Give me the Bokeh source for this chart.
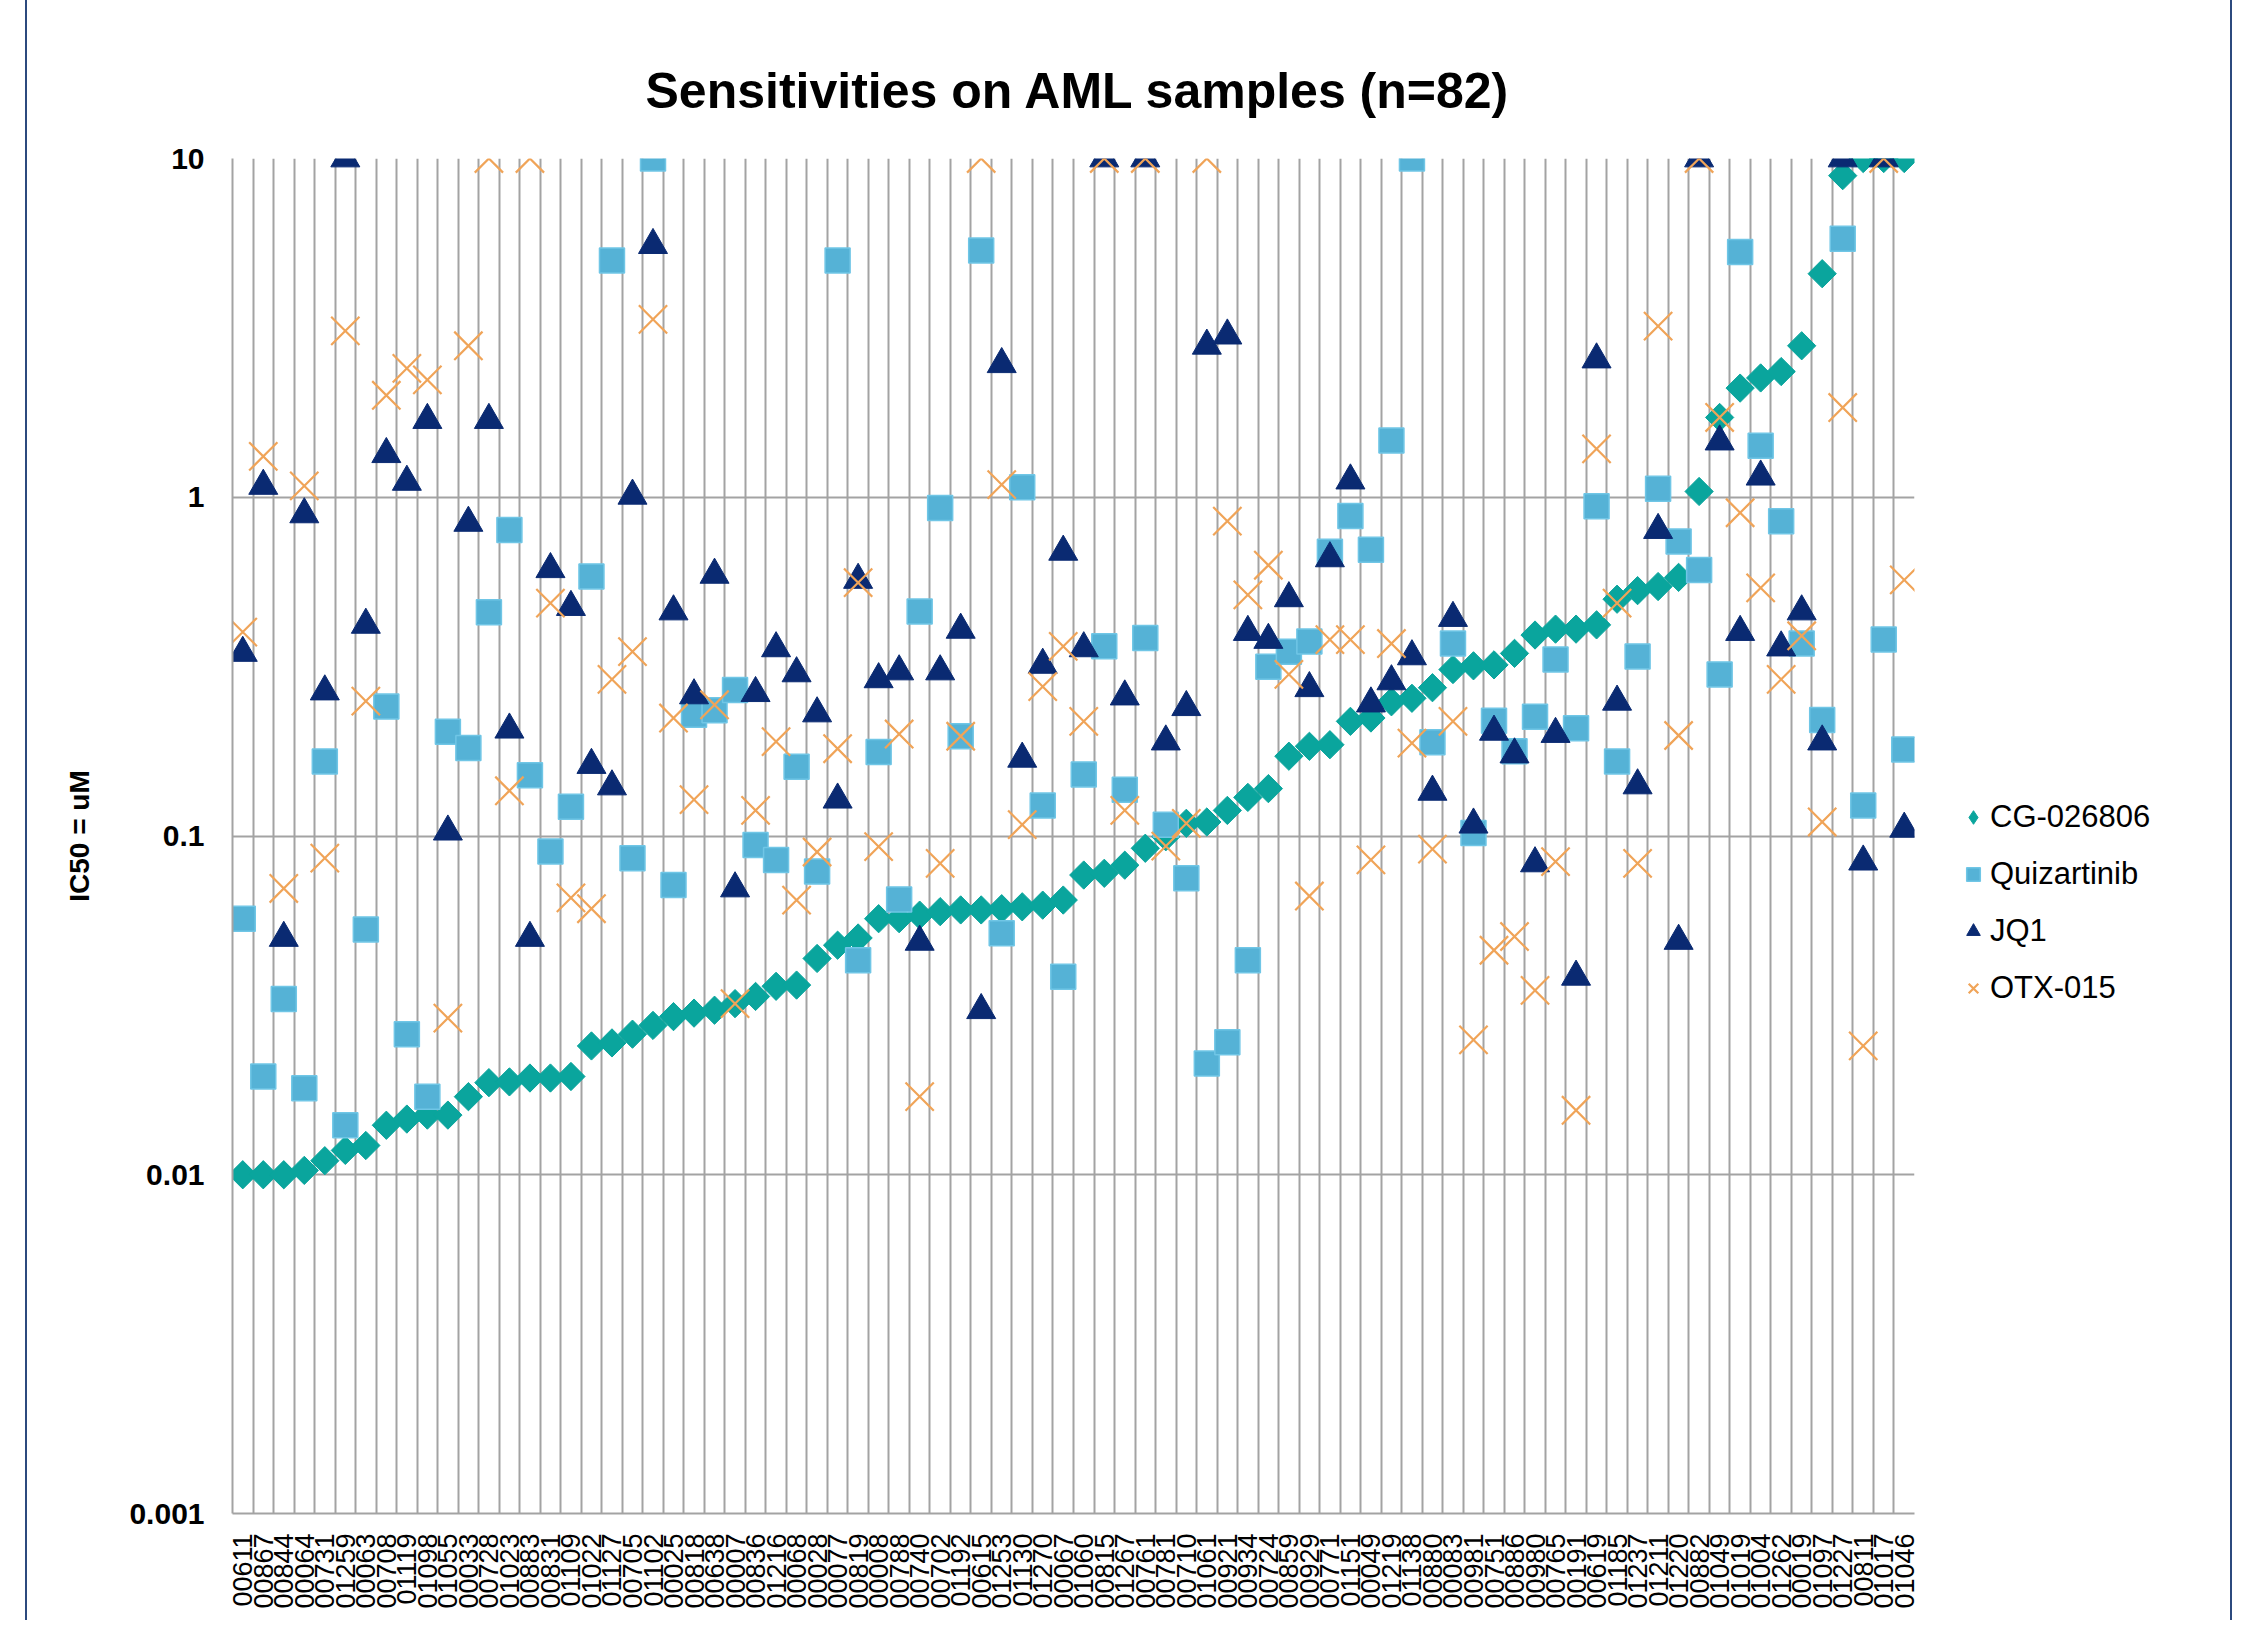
import math
from bokeh.plotting import figure
from bokeh.layouts import row
from bokeh.models import (FactorRange, FixedTicker, Legend, LegendItem, ColumnDataSource)
from bokeh.embed import file_html
from bokeh.resources import INLINE

samples = ["00611", "00867", "00844", "00064", "00731", "01259", "00063", "00708", "01119", "01098",
           "01055", "00033", "00728", "01023", "00883", "00831", "01109", "01022", "01127", "00705",
           "01102", "00025", "00818", "00638", "00007", "00836", "01216", "00068", "00028", "00077",
           "00819", "00008", "00788", "00740", "00702", "01192", "00615", "01253", "01130", "01270",
           "00067", "01060", "00815", "01267", "00761", "00781", "00710", "01061", "00921", "00934",
           "00724", "00859", "00929", "00771", "01151", "00049", "01219", "01138", "00880", "00083",
           "00981", "00751", "00886", "00980", "00765", "00191", "00619", "01185", "01237", "01211",
           "01220", "00882", "01049", "01019", "01004", "01262", "00019", "01097", "01227", "00811",
           "01017", "01046"]

cg_026806 = [0.0100, 0.0100, 0.0100, 0.0103, 0.011, 0.0118, 0.0122, 0.014, 0.0146, 0.015,
             0.015, 0.017, 0.0187, 0.0188, 0.0193, 0.0193, 0.0195, 0.024, 0.0245, 0.026,
             0.0276, 0.0293, 0.030, 0.0306, 0.032, 0.0336, 0.036, 0.0363, 0.0435, 0.0476,
             0.050, 0.057, 0.057, 0.0584, 0.0598, 0.0605, 0.0605, 0.061, 0.0618, 0.0625,
             0.0647, 0.0767, 0.0776, 0.082, 0.092, 0.0995, 0.109, 0.11, 0.119, 0.13,
             0.138, 0.172, 0.184, 0.186, 0.218, 0.223, 0.249, 0.255, 0.274, 0.31,
             0.318, 0.32, 0.346, 0.392, 0.408, 0.408, 0.42, 0.50, 0.53, 0.545,
             0.58, 1.04, 1.72, 2.1, 2.25, 2.35, 2.8, 4.57, 8.9, 10,
             10, 10]

quizartinib = [0.057, 0.0195, 0.033, 0.018, 0.166, 0.014, 0.053, 0.241, 0.026, 0.017,
               0.203, 0.182, 0.458, 0.80, 0.151, 0.09, 0.122, 0.584, 5.0, 0.086,
               10, 0.0717, 0.228, 0.235, 0.27, 0.094, 0.085, 0.16, 0.0785, 5.0,
               0.043, 0.177, 0.065, 0.46, 0.93, 0.197, 5.35, 0.0516, 1.07, 0.123,
               0.0384, 0.152, 0.363, 0.137, 0.384, 0.108, 0.075, 0.0213, 0.0246, 0.043,
               0.316, 0.35, 0.375, 0.69, 0.88, 0.70, 1.47, 10, 0.189, 0.37,
               0.102, 0.219, 0.178, 0.225, 0.332, 0.208, 0.94, 0.166, 0.339, 1.06,
               0.74, 0.61, 0.30, 5.3, 1.42, 0.85, 0.37, 0.22, 5.8, 0.123,
               0.38, 0.18]

jq1 = [0.347, 1.08, 0.05, 0.89, 0.267, 10, 0.42, 1.34, 1.11, 1.69,
       0.103, 0.84, 1.69, 0.206, 0.05, 0.613, 0.474, 0.162, 0.14, 1.01,
       5.55, 0.46, 0.26, 0.59, 0.07, 0.264, 0.358, 0.302, 0.23, 0.128,
       0.57, 0.29, 0.306, 0.0487, 0.306, 0.406, 0.0306, 2.47, 0.169, 0.32,
       0.69, 0.358, 10, 0.258, 10, 0.19, 0.24, 2.8, 3.0, 0.40,
       0.379, 0.503, 0.273, 0.66, 1.12, 0.246, 0.286, 0.339, 0.135, 0.44,
       0.108, 0.203, 0.174, 0.083, 0.20, 0.0384, 2.55, 0.249, 0.141, 0.8,
       0.049, 10, 1.46, 0.40, 1.15, 0.36, 0.46, 0.19, 10, 0.084,
       10, 0.105]

otx_015 = [0.40, 1.32, 0.070, 1.08, 0.086, 3.1, 0.25, 2.0, 2.4, 2.22,
           0.029, 2.8, 10, 0.136, 10, 0.487, 0.0657, 0.061, 0.29, 0.35,
           3.35, 0.223, 0.128, 0.244, 0.032, 0.119, 0.19, 0.0647, 0.0897, 0.181,
           0.56, 0.093, 0.2, 0.017, 0.083, 0.197, 10, 1.09, 0.108, 0.276,
           0.363, 0.218, 10, 0.119, 10, 0.0934, 0.109, 10, 0.85, 0.515,
           0.63, 0.30, 0.0665, 0.38, 0.38, 0.085, 0.37, 0.188, 0.0915, 0.218,
           0.025, 0.046, 0.0505, 0.035, 0.084, 0.0155, 1.39, 0.487, 0.083, 3.2,
           0.198, 10, 1.72, 0.9, 0.54, 0.29, 0.39, 0.11, 1.84, 0.024,
           10, 0.57]

y_ticks = [0.001, 0.01, 0.1, 1, 10]
y_tick_labels = ["0.001", "0.01", "0.1", "1", "10"]

series_names = ["CG-026806", "Quizartinib", "JQ1", "OTX-015"]

FONT = "Liberation Sans"
GRID = "#a3a3a3"
TEAL = "#0aa59d"
BLUE = "#55b2d6"
NAVY = "#0a2a72"
ORANGE = "#f0a458"
EDGE = "2px solid #2c4a7e"

src = ColumnDataSource(data=dict(sample=samples, cg=cg_026806, quiz=quizartinib,
                                 jq1=jq1, otx=otx_015))

xr = FactorRange(factors=samples, range_padding=0, factor_padding=0)

p = figure(width=1907, height=1620, x_range=xr,
           y_axis_type="log", y_range=(0.001, 10),
           output_backend="svg", toolbar_location=None,
           min_border_left=205, min_border_right=20,
           min_border_top=158, min_border_bottom=107,
           background_fill_color="white", border_fill_color="white")
p.outline_line_color = None
p.styles = {"border-left": EDGE, "margin-left": "25px"}

p.title.text = "Sensitivities on AML samples (n=82)"
p.title.align = "left"
p.title.offset = 413
p.title.text_font = FONT
p.title.text_font_size = "50px"
p.title.text_font_style = "bold"
p.title.text_color = "black"
p.title.standoff = 80

# y axis
p.yaxis.ticker = FixedTicker(ticks=y_ticks, minor_ticks=[])
p.yaxis.major_label_overrides = {t: l for t, l in zip(y_ticks, y_tick_labels)}
p.yaxis.major_label_text_font = FONT
p.yaxis.major_label_text_font_size = "30px"
p.yaxis.major_label_text_font_style = "bold"
p.yaxis.major_label_text_color = "black"
p.yaxis.major_tick_line_color = None
p.yaxis.minor_tick_line_color = None
p.yaxis.major_tick_out = 0
p.yaxis.major_label_standoff = 28
p.yaxis.axis_line_color = GRID
p.yaxis.axis_line_width = 2
p.yaxis.axis_label = "IC50 = uM"
p.yaxis.axis_label_text_font = FONT
p.yaxis.axis_label_text_font_size = "28px"
p.yaxis.axis_label_text_font_style = "bold"
p.yaxis.axis_label_text_color = "black"
p.yaxis.axis_label_standoff = 31

# x axis
p.xaxis.major_label_orientation = math.pi / 2
p.xaxis.major_label_text_font = FONT
p.xaxis.major_label_text_font_size = "27px"
p.xaxis.major_label_text_color = "black"
p.xaxis.major_tick_line_color = None
p.xaxis.major_tick_out = 0
p.xaxis.major_label_standoff = 20
p.xaxis.axis_line_color = GRID
p.xaxis.axis_line_width = 2

# grids: vertical lines at category boundaries, horizontal at decades
p.xgrid.ticker = FixedTicker(ticks=list(range(0, len(samples) + 1)))
p.xgrid.grid_line_color = GRID
p.xgrid.grid_line_width = 2
p.ygrid.grid_line_color = GRID
p.ygrid.grid_line_width = 2

p.scatter(x="sample", y="cg", source=src, marker="square", angle=math.pi / 4,
          size=20, fill_color=TEAL, line_color=TEAL, line_width=1)
p.scatter(x="sample", y="quiz", source=src, marker="square", size=25,
          fill_color=BLUE, line_color="#70c6e6", line_width=1.5)
p.scatter(x="sample", y="jq1", source=src, marker="triangle", size=29,
          fill_color=NAVY, line_color=NAVY, line_width=1)
p.scatter(x="sample", y="otx", source=src, marker="x", size=40,
          line_color=ORANGE, line_width=2.2)

# legend panel: a second, axis-less canvas to the right that holds only the legend
leg = figure(width=300, height=1620, x_range=xr,
             y_axis_type="log", y_range=(0.001, 10),
             output_backend="svg", toolbar_location=None,
             x_axis_location=None, y_axis_location=None, min_border=0,
             background_fill_color="white", border_fill_color="white")
leg.outline_line_color = None
leg.grid.visible = False
leg.styles = {"border-right": EDGE}

k_cg = leg.scatter(x="sample", y="cg", source=src, marker="diamond", size=20,
                   fill_color=TEAL, line_color=TEAL, line_width=1, visible=False)
k_q = leg.scatter(x="sample", y="quiz", source=src, marker="square", size=25,
                  fill_color=BLUE, line_color="#70c6e6", line_width=1.5, visible=False)
k_j = leg.scatter(x="sample", y="jq1", source=src, marker="triangle", size=29,
                  fill_color=NAVY, line_color=NAVY, line_width=1, visible=False)
k_o = leg.scatter(x="sample", y="otx", source=src, marker="x", size=40,
                  line_color=ORANGE, line_width=2.2, visible=False)

legend = Legend(items=[LegendItem(label=series_names[0], renderers=[k_cg]),
                       LegendItem(label=series_names[1], renderers=[k_q]),
                       LegendItem(label=series_names[2], renderers=[k_j]),
                       LegendItem(label=series_names[3], renderers=[k_o])],
                location=(24, 505), orientation="vertical",
                glyph_width=34, glyph_height=40, label_height=40, label_standoff=0,
                spacing=17, padding=0, margin=0, inactive_fill_alpha=0,
                border_line_color=None, background_fill_alpha=0,
                label_text_font=FONT, label_text_font_size="31px", label_text_color="black")
leg.add_layout(legend)

layout = row(p, leg, spacing=0)

open("out.html", "w").write(file_html(layout, INLINE))
